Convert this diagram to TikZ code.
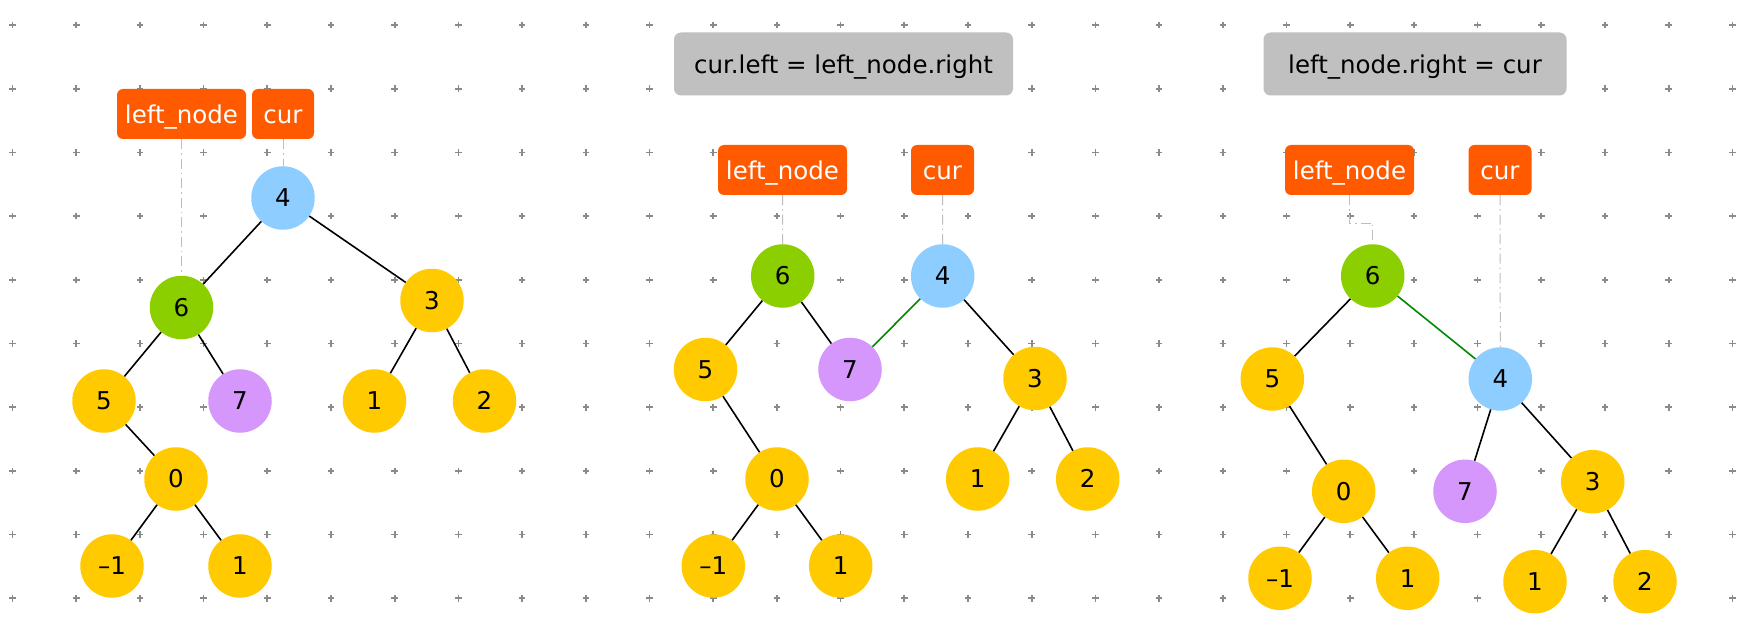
\documentclass[tikz,border=0pt]{standalone}
\usepackage{fontspec}
\setmainfont{DejaVu Sans}
\definecolor{orangebox}{HTML}{FF5A00}
\definecolor{graybox}{HTML}{C0C0C0}
\definecolor{bluec}{HTML}{8ECDFF}
\definecolor{greenc}{HTML}{8CCF00}
\definecolor{yellowc}{HTML}{FFCA00}
\definecolor{purplec}{HTML}{D597FB}
\definecolor{greenedge}{HTML}{008A00}
\definecolor{linkgray}{HTML}{BDBDBD}
\definecolor{gridgray}{HTML}{8A8A8A}
\begin{document}
\begin{tikzpicture}[x=1pt,y=-1pt,
  tn/.style={circle,minimum size=63.5pt,inner sep=0pt,
    font=\fontsize{24.5}{28}\selectfont,text height=17.5pt,text depth=0pt},
  yel/.style={tn,fill=yellowc},
  blu/.style={tn,fill=bluec},
  grn/.style={tn,fill=greenc},
  pur/.style={tn,fill=purplec},
  ptr/.style={rectangle,rounded corners=6pt,fill=orangebox,text=white,
    minimum height=50pt,inner sep=0pt,
    font=\fontsize{24.5}{28}\selectfont,text height=18.6pt,text depth=0pt},
  opbox/.style={rectangle,rounded corners=7pt,fill=graybox,
    minimum height=63pt,inner sep=0pt,
    font=\fontsize{24.5}{28}\selectfont,text height=19.5pt,text depth=0pt},
  treeedge/.style={line width=1.6pt,black},
  newedge/.style={line width=1.6pt,greenedge},
  link/.style={linkgray,line width=1pt,dash pattern=on 10pt off 4pt on 1.5pt off 4pt}
]
\useasboundingbox[fill=white] (0,0) rectangle (1744,644);
% grid of plus marks
\foreach \i in {0,...,27}{
  \foreach \j in {0,...,9}{
    \draw[gridgray,line width=1.7pt]
      ({12.5+63.7*\i-3.3},{25+63.7*\j}) -- ++(6.6,0)
      ({12.5+63.7*\i},{25+63.7*\j-3.3}) -- ++(0,6.6);
  }
}
% ---------------- panel 1
\node[ptr,minimum width=129pt] (aln) at (181.5,114) {left\_node};
\node[ptr,minimum width=62pt] (acur) at (283,114) {cur};
\node[blu] (a4) at (283,198) {4};
\node[grn] (a6) at (181.5,307.5) {6};
\node[yel] (a3) at (432,300.5) {3};
\node[yel] (a5) at (104,401) {5};
\node[pur] (a7) at (240,401) {7};
\node[yel] (a1) at (374.5,401) {1};
\node[yel] (a2) at (484.5,401) {2};
\node[yel] (a0) at (176,479) {0};
\node[yel] (am) at (112,566) {–1};
\node[yel] (a1b) at (240,566) {1};
\draw[link] (aln.south) -- (a6.north);
\draw[link] (acur.south) -- (a4.north);
\draw[treeedge] (a4) -- (a6);
\draw[treeedge] (a4) -- (a3);
\draw[treeedge] (a6) -- (a5);
\draw[treeedge] (a6) -- (a7);
\draw[treeedge] (a5) -- (a0);
\draw[treeedge] (a0) -- (am);
\draw[treeedge] (a0) -- (a1b);
\draw[treeedge] (a3) -- (a1);
\draw[treeedge] (a3) -- (a2);
% ---------------- panel 2
\node[opbox,minimum width=339pt] (bop) at (843.5,64) {cur.left = left\_node.right};
\node[ptr,minimum width=129pt] (bln) at (782.5,170) {left\_node};
\node[ptr,minimum width=63pt] (bcur) at (942.5,170) {cur};
\node[grn] (b6) at (782.7,276) {6};
\node[blu] (b4) at (942.7,276) {4};
\node[yel] (b5) at (705.5,369.5) {5};
\node[pur] (b7) at (850,369.5) {7};
\node[yel] (b3) at (1035,378.5) {3};
\node[yel] (b0) at (777,479) {0};
\node[yel] (bm) at (713.3,566) {–1};
\node[yel] (b1b) at (840.7,566) {1};
\node[yel] (b1) at (977.7,479) {1};
\node[yel] (b2) at (1087.7,479) {2};
\draw[link] (bln.south) -- (b6.north);
\draw[link] (bcur.south) -- (b4.north);
\draw[treeedge] (b6) -- (b5);
\draw[treeedge] (b6) -- (b7);
\draw[newedge] (b4) -- (b7);
\draw[treeedge] (b4) -- (b3);
\draw[treeedge] (b5) -- (b0);
\draw[treeedge] (b0) -- (bm);
\draw[treeedge] (b0) -- (b1b);
\draw[treeedge] (b3) -- (b1);
\draw[treeedge] (b3) -- (b2);
% ---------------- panel 3
\node[opbox,minimum width=303pt] (cop) at (1415,64) {left\_node.right = cur};
\node[ptr,minimum width=129pt] (cln) at (1349.5,170) {left\_node};
\node[ptr,minimum width=63pt] (ccur) at (1500,170) {cur};
\node[grn] (c6) at (1372.7,276) {6};
\node[yel] (c5) at (1272.3,379) {5};
\node[blu] (c4) at (1500.3,379) {4};
\node[pur] (c7) at (1465,491.3) {7};
\node[yel] (c3) at (1592.7,481.7) {3};
\node[yel] (c0) at (1343.7,491.3) {0};
\node[yel] (cm) at (1280,578.3) {–1};
\node[yel] (c1b) at (1407.7,578.3) {1};
\node[yel] (c1) at (1535,581.7) {1};
\node[yel] (c2) at (1645,581.7) {2};
\draw[link] (cln.south) -- ++(0,28) -| (c6.north);
\draw[link] (ccur.south) -- (c4.north);
\draw[treeedge] (c6) -- (c5);
\draw[newedge] (c6) -- (c4);
\draw[treeedge] (c4) -- (c7);
\draw[treeedge] (c4) -- (c3);
\draw[treeedge] (c5) -- (c0);
\draw[treeedge] (c0) -- (cm);
\draw[treeedge] (c0) -- (c1b);
\draw[treeedge] (c3) -- (c1);
\draw[treeedge] (c3) -- (c2);
\end{tikzpicture}
\end{document}
